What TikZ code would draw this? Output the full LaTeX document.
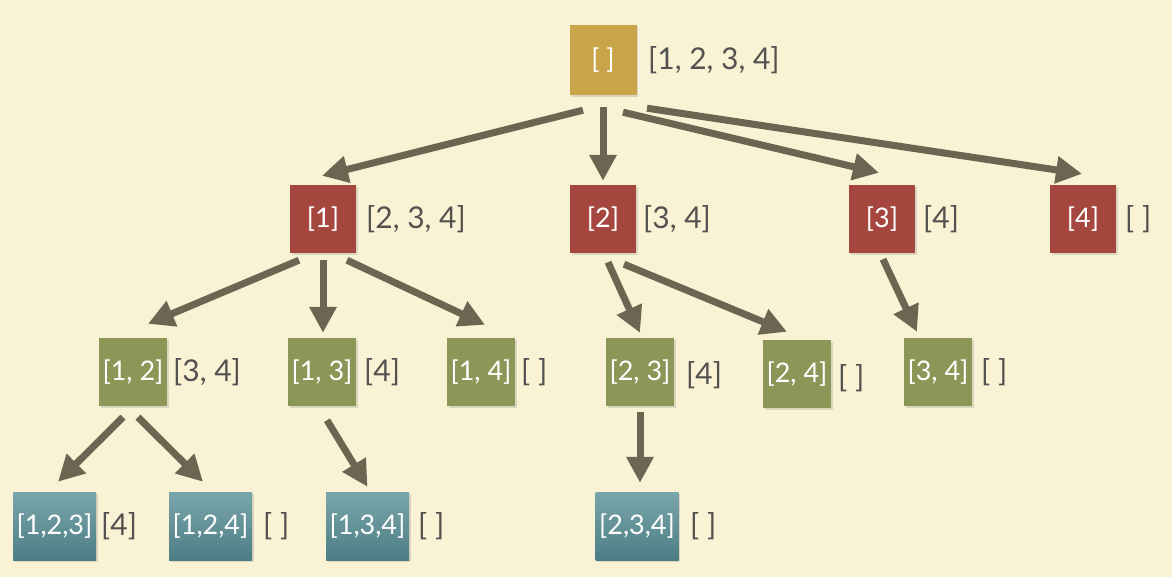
\documentclass[tikz,border=0pt]{standalone}
\usepackage{fontspec}
\setmainfont{Lato}
\usetikzlibrary{arrows.meta,shadows,scopes}

\definecolor{paper}{HTML}{F9F2D4}
\definecolor{gold}{HTML}{C9A449}
\definecolor{boxred}{HTML}{A5473F}
\definecolor{boxgreen}{HTML}{8B9657}
\definecolor{tealtop}{HTML}{79A6AA}
\definecolor{tealbot}{HTML}{4D7D85}
\definecolor{restgray}{HTML}{545250}
\definecolor{arrowgray}{HTML}{6B6551}

\tikzset{
  box/.style={minimum width=67pt,minimum height=68pt,inner sep=0pt,text=white,
              font=\fontsize{27}{30}\selectfont,
              drop shadow={opacity=.25,shadow xshift=1.5pt,shadow yshift=-2pt}},
  rootbox/.style={box,fill=gold,minimum height=70pt},
  redbox/.style={box,fill=boxred,minimum width=66pt},
  greenbox/.style={box,fill=boxgreen,minimum width=68pt},
  tealbox/.style={box,top color=tealtop,bottom color=tealbot,minimum width=83pt},
  rest/.style={anchor=west,inner sep=0pt,text=restgray,font=\fontsize{30}{33}\selectfont},
  link/.style={draw=arrowgray,line width=7pt,-{Triangle[length=26pt,width=26pt]}}
}

\begin{document}
\begin{tikzpicture}[x=1pt,y=-1pt]
\useasboundingbox[fill=paper] (0,0) rectangle (1172,577);

\path node[rootbox]  (m0)  at (603,60)   {[ ]}      node[rest] (l0)  at (648,60)  {[1, 2, 3, 4]}
      node[redbox]   (m11) at (323,219)  {[1]}      node[rest] (l11) at (366,219) {[2, 3, 4]}
      node[redbox]   (m12) at (603,219)  {[2]}      node[rest] (l12) at (643,219) {[3, 4]}
      node[redbox]   (m13) at (882,219)  {[3]}      node[rest] (l13) at (923,219) {[4]}
      node[redbox]   (m14) at (1083,219) {[4]}      node[rest] (l14) at (1125,219) {[ ]}
      node[greenbox] (m21) at (133,372)  {[1, 2]}   node[rest] (l21) at (173,372) {[3, 4]}
      node[greenbox] (m22) at (322,372)  {[1, 3]}   node[rest] (l22) at (364,372) {[4]}
      node[greenbox] (m23) at (481,372)  {[1, 4]}   node[rest] (l23) at (521,372) {[ ]}
      node[greenbox] (m24) at (640,372)  {[2, 3]}   node[rest] (l24) at (686,375) {[4]}
      node[greenbox] (m25) at (797,374)  {[2, 4]}   node[rest] (l25) at (838,378) {[ ]}
      node[greenbox] (m26) at (938,372)  {[3, 4]}   node[rest] (l26) at (981,372) {[ ]}
      node[tealbox]  (m31) at (54.5,526) {[1,2,3]}  node[rest] (l31) at (101,526) {[4]}
      node[tealbox]  (m32) at (210.5,526) {[1,2,4]} node[rest] (l32) at (263,526) {[ ]}
      node[tealbox]  (m33) at (367.5,526) {[1,3,4]} node[rest] (l33) at (418,526) {[ ]}
      node[tealbox]  (m34) at (637,526)  {[2,3,4]}  node[rest] (l34) at (690,526) {[ ]};

    { [link]
     % root to first level
     \draw ([xshift=-20pt,yshift=-15pt]m0.south) -- ([xshift=-1pt,yshift=9pt]m11.north);
     \draw ([yshift=-12pt]m0.south)               -- ([yshift=4pt]m12.north);
     \draw ([xshift=20pt,yshift=-17pt]m0.south)  -- ([xshift=-3pt,yshift=12pt]m13.north);
     \draw ([xshift=44pt,yshift=-13pt]m0.south)  -- ([xshift=-1pt,yshift=11pt]m14.north);

     % first level to second
     \draw ([xshift=-24pt,yshift=-7pt]m11.south) -- ([xshift=15pt,yshift=14pt]m21.north);
     \draw ([yshift=-7pt]m11.south)              -- ([xshift=1pt,yshift=5pt]m22.north);
     \draw ([xshift=24pt,yshift=-7pt]m11.south)  -- ([xshift=4pt,yshift=13pt]m23.north);
     \draw ([xshift=5pt,yshift=-9pt]m12.south)   -- ([yshift=5pt]m24.north);
     \draw ([xshift=21pt,yshift=-11pt]m12.south) -- ([xshift=-10pt,yshift=8pt]m25.north);
     \draw ([xshift=1pt,yshift=-6pt]m13.south)   -- ([xshift=-21pt,yshift=6pt]m26.north);

     % second level to third
     \draw ([xshift=-10pt,yshift=-11pt]m21.south) -- ([xshift=3.5pt,yshift=10pt]m31.north);
     \draw ([xshift=5pt,yshift=-11pt]m21.south)   -- ([xshift=-7.5pt,yshift=10pt]m32.north);
     \draw ([xshift=5pt,yshift=-14pt]m22.south)   -- ([yshift=5pt]m33.north);
     \draw ([yshift=-6pt]m24.south)               -- ([xshift=3pt,yshift=9pt]m34.north);
    }
\end{tikzpicture}
\end{document}
